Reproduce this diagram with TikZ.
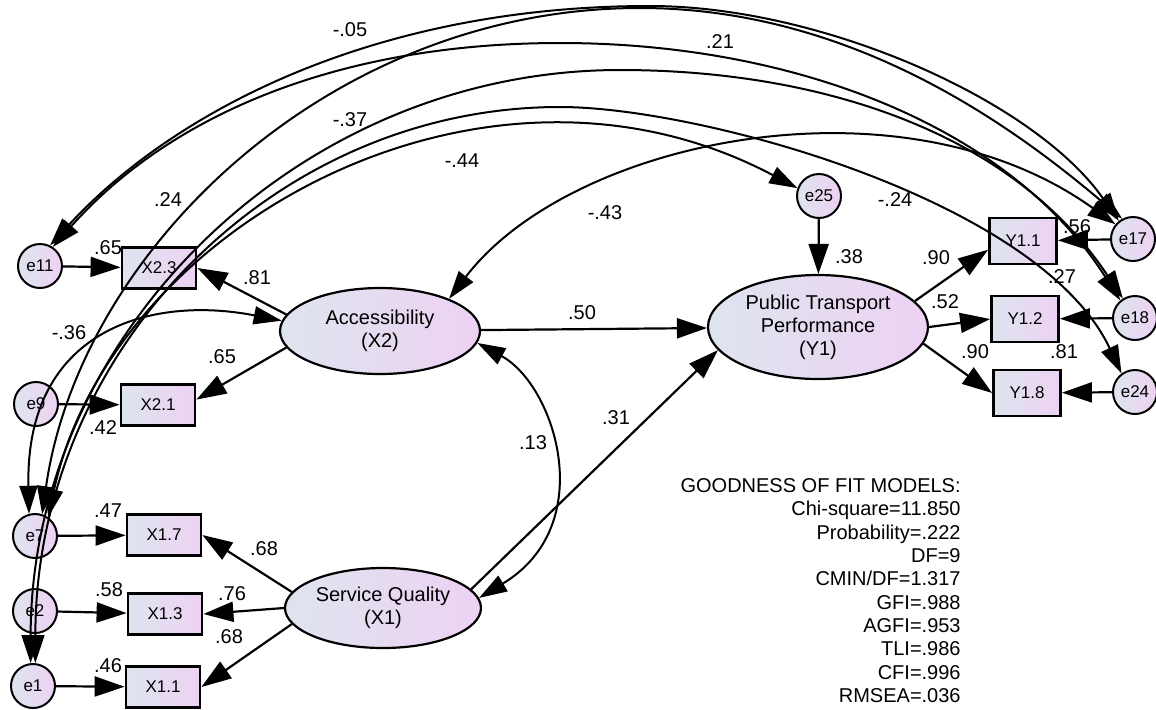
\documentclass[tikz,border=0pt]{standalone}
\usepackage{fontspec}
\setmainfont{Liberation Sans}
\usetikzlibrary{arrows.meta, shapes.geometric}
\definecolor{shadeL}{RGB}{222,228,238}
\definecolor{shadeR}{RGB}{237,210,244}

\begin{document}
\begin{tikzpicture}
  [x=0.5pt, y=-0.5pt,
   evar/.style={circle, draw, line width=1pt, left color=shadeL, right color=shadeR,
                inner sep=0pt, minimum size=22pt, font=\fontsize{8.5}{9}\selectfont},
   obs/.style={rectangle, draw, line width=1.4pt, left color=shadeL, right color=shadeR,
               inner sep=0pt, minimum width=37pt, minimum height=20.5pt,
               font=\fontsize{8.5}{9}\selectfont},
   yobs/.style={obs, minimum width=33.5pt, minimum height=23pt},
   latent/.style={ellipse, draw, line width=1.1pt, left color=shadeL, right color=shadeR,
                  inner sep=0pt, align=center, font=\fontsize{10}{11.5}\selectfont},
   effect/.style={-{Triangle[length=15pt, width=10pt]}, line width=1.1pt},
   cov/.style={{Triangle[length=14pt, width=9pt]}-{Triangle[length=14pt, width=9pt]},
               line width=1pt},
   lbl/.style={inner sep=0pt, font=\fontsize{10}{12}\selectfont},
   fitlbl/.style={inner sep=0pt, align=right, font=\fontsize{10}{11.67}\selectfont}]
  \useasboundingbox (0,0) rectangle (1156,709);
  % error terms
  \node[evar]   (e11) at (40,266)   {e11};
  \node[evar]   (e9)  at (36,404)   {e9};
  \node[evar]   (e7)  at (35,536)   {e7};
  \node[evar]   (e2)  at (35,611)   {e2};
  \node[evar]   (e1)  at (33,686)   {e1};
  \node[evar]   (e25) at (819,196)  {e25};
  \node[evar]   (e17) at (1133,239) {e17};
  \node[evar]   (e18) at (1135,318) {e18};
  \node[evar]   (e24) at (1135,392) {e24};
  % indicators
  \node[obs]    (x23) at (159,268)  {X2.3};
  \node[obs]    (x21) at (158,405)  {X2.1};
  \node[obs]    (x17) at (164,535)  {X1.7};
  \node[obs]    (x13) at (165,614)  {X1.3};
  \node[obs]    (x11) at (163,687)  {X1.1};
  \node[yobs]   (y11) at (1023,241) {Y1.1};
  \node[yobs]   (y12) at (1025,319) {Y1.2};
  \node[yobs]   (y18) at (1027,393) {Y1.8};
  % latent variables
  \node[latent, minimum width=100pt, minimum height=43pt] (acc) at (380,331)
       {Accessibility\\(X2)};
  \node[latent, minimum width=98pt, minimum height=40pt]  (sq)  at (383,608)
       {Service Quality\\(X1)};
  \node[latent, minimum width=110pt, minimum height=52pt] (ptp) at (818,327)
       {Public Transport\\Performance\\(Y1)};

  % measurement errors
  \draw[effect] (e11) -- (x23);
  \draw[effect] (e9)  -- (x21);
  \draw[effect] (e7)  -- (x17);
  \draw[effect] (e2)  -- (x13);
  \draw[effect] (e1)  -- (x11);
  \draw[effect] (e17) -- (y11);
  \draw[effect] (e18) -- (y12);
  \draw[effect] (e24) -- (y18);
  \draw[effect] (e25) -- (ptp);
  % loadings
  \draw[effect] (acc.170) -- (x23.east);
  \draw[effect] (acc.190) -- (x21.8);
  \draw[effect] (sq.170)  -- (x17.east);
  \draw[effect] (sq.west) -- (x13.east);
  \draw[effect] (sq.190)  -- (x11.east);
  \draw[effect] (ptp.15)  -- (y11.194);
  \draw[effect] (ptp.east) -- (y12.west);
  \draw[effect] (ptp.-9)  -- (y18.west);
  % structural paths
  \draw[effect] (acc) -- (ptp);
  \draw[effect] (sq.12) -- (ptp.193);

  % covariances
  \draw[cov] (acc.-7) .. controls (555,385) and (600,525) .. (sq.6);
  \draw[cov] (acc.174) .. controls (150,295) and (25,330) .. (e7.105);
  \draw[cov] (acc.25) .. controls (570,140) and (900,70) .. (e17.140);
  \draw[cov] (e7.55) .. controls (110,230) and (480,20) .. (e25.160);
  \draw[cov] (e11.64) .. controls (171,114) and (370,6) .. (650,6)
             .. controls (820,6) and (1033,99) .. (e17.128);
  \draw[cov] (e11.56) .. controls (171,114) and (340,43) .. (560,43)
             .. controls (800,43) and (1012,130) .. (e18.130);
  \draw[cov] (e7.72) .. controls (80,250) and (330,8) .. (640,8)
             .. controls (850,8) and (1010,124) .. (e17.118);
  \draw[cov] (e1.96) .. controls (31,334) and (299,70) .. (620,70)
             .. controls (820,70) and (1012,132) .. (e18.122);
  \draw[cov] (e1.84) .. controls (35,353) and (271,107) .. (560,107)
             .. controls (700,107) and (1040,200) .. (e24.126);

  % estimates
  \node[lbl] (c05)  at (350,30)   {-.05};
  \node[lbl] (c21)  at (720,42)   {.21};
  \node[lbl] (c24)  at (168,200)  {.24};
  \node[lbl] (c37)  at (350,120)  {-.37};
  \node[lbl] (c44)  at (462,161)  {-.44};
  \node[lbl] (c43)  at (605,213)  {-.43};
  \node[lbl] (c24n) at (895,200)  {-.24};
  \node[lbl] (c36)  at (69,333)   {-.36};
  \node[lbl] (c13)  at (533,443)  {.13};
  \node[lbl] (r23)  at (108,248)  {.65};
  \node[lbl] (r21)  at (103,428)  {.42};
  \node[lbl] (r17)  at (108,511)  {.47};
  \node[lbl] (r13)  at (109,590)  {.58};
  \node[lbl] (r11)  at (108,666)  {.46};
  \node[lbl] (l23)  at (257,278)  {.81};
  \node[lbl] (l21)  at (222,357)  {.65};
  \node[lbl] (l17)  at (264,549)  {.68};
  \node[lbl] (l13)  at (232,594)  {.76};
  \node[lbl] (l11)  at (229,637)  {.68};
  \node[lbl] (b50)  at (582,313)  {.50};
  \node[lbl] (b31)  at (616,418)  {.31};
  \node[lbl] (rptp) at (849,257)  {.38};
  \node[lbl] (ly11) at (936,258)  {.90};
  \node[lbl] (ly12) at (945,302)  {.52};
  \node[lbl] (ly18) at (975,352)  {.90};
  \node[lbl] (ry11) at (1077,227) {.56};
  \node[lbl] (ry12) at (1062,277) {.27};
  \node[lbl] (ry18) at (1064,352) {.81};

  % fit indices
  \node[fitlbl, anchor=north east] (fit) at (961,478)
       {GOODNESS OF FIT MODELS:\\Chi-square=11.850\\Probability=.222\\DF=9\\
        CMIN/DF=1.317\\GFI=.988\\AGFI=.953\\TLI=.986\\CFI=.996\\RMSEA=.036};
\end{tikzpicture}
\end{document}
